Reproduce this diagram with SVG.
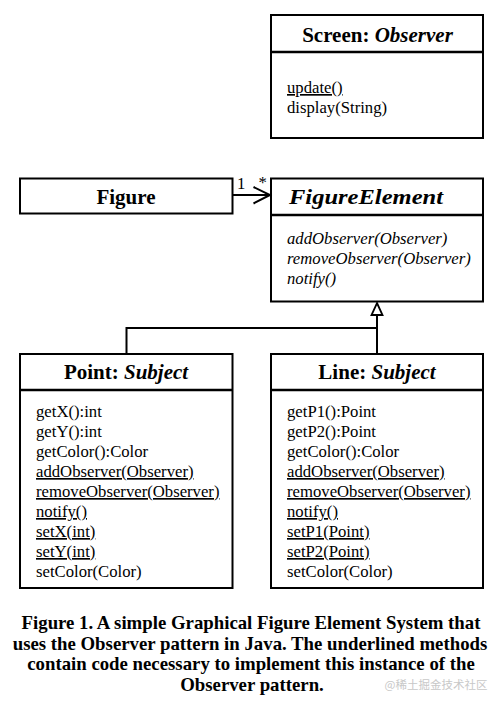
<svg xmlns="http://www.w3.org/2000/svg" width="500" height="707" viewBox="0 0 500 707">
<style>
.box{fill:#fff;stroke:#000;stroke-width:2}
.div{stroke:#000;stroke-width:2.5}
.hd{font-family:"Liberation Serif","Times New Roman",serif;font-weight:bold;font-size:21px;text-anchor:middle;fill:#000}
.it{font-style:italic}
.m{font-family:"Liberation Serif","Times New Roman",serif;font-size:16.7px;fill:#000}
.u{text-decoration:underline}
.cap{font-family:"Liberation Serif","Times New Roman",serif;font-weight:bold;font-size:18.8px;text-anchor:middle;fill:#000}
.conn{fill:none;stroke:#000;stroke-width:2}
</style>
<rect width="500" height="707" fill="#fff"/>
<g id="screen">
<rect class="box" x="271" y="15" width="212" height="123"/>
<line class="div" x1="271" y1="52" x2="483" y2="52"/>
<text class="hd" x="377.5" y="42">Screen: <tspan class="it">Observer</tspan></text>
<text class="m u" x="287" y="93">update()</text>
<text class="m" x="287" y="113">display(String)</text>
</g>
<g id="figure">
<rect class="box" x="20" y="178.5" width="212.5" height="35"/>
<text class="hd" x="126" y="204">Figure</text>
</g>
<g id="figureelement">
<rect class="box" x="271" y="178.5" width="212" height="123"/>
<line class="div" x1="271" y1="215" x2="483" y2="215"/>
<text class="hd it" x="366" y="204" textLength="154" lengthAdjust="spacingAndGlyphs">FigureElement</text>
<text class="m it" x="287" y="244">addObserver(Observer)</text>
<text class="m it" x="287" y="264">removeObserver(Observer)</text>
<text class="m it" x="287" y="284">notify()</text>
</g>
<g id="point">
<rect class="box" x="20" y="354" width="212.5" height="234"/>
<line class="div" x1="20" y1="390" x2="232.5" y2="390"/>
<text class="hd" x="126" y="379">Point: <tspan class="it">Subject</tspan></text>
<text class="m" x="36" y="416.5">getX():int</text>
<text class="m" x="36" y="436.5">getY():int</text>
<text class="m" x="36" y="456.5">getColor():Color</text>
<text class="m u" x="36" y="477">addObserver(Observer)</text>
<text class="m u" x="36" y="497">removeObserver(Observer)</text>
<text class="m u" x="36" y="517">notify()</text>
<text class="m u" x="36" y="537">setX(int)</text>
<text class="m u" x="36" y="557">setY(int)</text>
<text class="m" x="36" y="577">setColor(Color)</text>
</g>
<g id="line">
<rect class="box" x="271" y="354" width="212" height="234"/>
<line class="div" x1="271" y1="390" x2="483" y2="390"/>
<text class="hd" x="377" y="379">Line: <tspan class="it">Subject</tspan></text>
<text class="m" x="287" y="416.5">getP1():Point</text>
<text class="m" x="287" y="436.5">getP2():Point</text>
<text class="m" x="287" y="456.5">getColor():Color</text>
<text class="m u" x="287" y="477">addObserver(Observer)</text>
<text class="m u" x="287" y="497">removeObserver(Observer)</text>
<text class="m u" x="287" y="517">notify()</text>
<text class="m u" x="287" y="537">setP1(Point)</text>
<text class="m u" x="287" y="557">setP2(Point)</text>
<text class="m" x="287" y="577">setColor(Color)</text>
</g>
<g id="connectors">
<line class="conn" x1="232.5" y1="195" x2="270" y2="195"/>
<polyline class="conn" points="253.5,187 270,195 253.5,203.5"/>
<text class="m" x="237" y="189" font-size="15">1</text>
<text class="m" x="258.5" y="188" font-size="15">*</text>
<polygon points="377,303 371.5,315 382.5,315" fill="#fff" stroke="#000" stroke-width="1.8"/>
<polyline class="conn" points="377,315 377,354"/>
<polyline class="conn" points="126.5,354 126.5,328 377,328"/>
</g>
<g id="caption">
<text class="cap" x="251" y="629">Figure 1. A simple Graphical Figure Element System that</text>
<text class="cap" x="250" y="649.5">uses the Observer pattern in Java. The underlined methods</text>
<text class="cap" x="251" y="670">contain code necessary to implement this instance of the</text>
<text class="cap" x="252" y="690.5">Observer pattern.</text>
<text x="436" y="688.5" font-family="'Noto Sans CJK SC',sans-serif" font-size="11.5" fill="#c8c8c8" text-anchor="middle">@稀土掘金技术社区</text>
</g>
</svg>
